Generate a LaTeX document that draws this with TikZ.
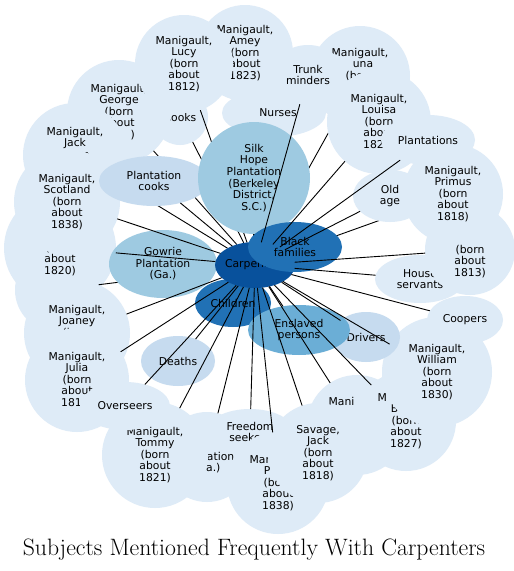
\documentclass[tikz,border=0pt]{standalone}
\usepackage{fontspec}
\newfontfamily\dejavu{DejaVu Sans}
\usetikzlibrary{shapes.geometric}
\definecolor{cO}{HTML}{DEEBF7}
\definecolor{cL}{HTML}{C6DBEF}
\definecolor{cM}{HTML}{9ECAE1}
\definecolor{cE}{HTML}{6BAED6}
\definecolor{cB}{HTML}{2171B5}
\definecolor{cD}{HTML}{08519C}
\pgfdeclarelayer{outer}
\pgfdeclarelayer{under}
\pgfdeclarelayer{mid}
\pgfsetlayers{outer,under,mid,main}
\tikzset{
  bub/.style n args={3}{ellipse, inner sep=0pt, outer sep=0pt, minimum width=#1pt, minimum height=#2pt, fill=#3, draw=none},
  lab/.style={font=\dejavu\fontsize{10.8}{11.6}\selectfont, align=center, inner sep=0pt, text=black},
  link/.style={line width=0.9pt, draw=black},
  ttl/.style={font=\fontsize{23.7}{28}\selectfont, inner sep=0pt}
}
\begin{document}
\begin{tikzpicture}[x=1pt,y=-1pt]
\begin{pgfonlayer}{outer}
\fill[white] (0,0) rectangle (514,571);
\end{pgfonlayer}
\useasboundingbox (0,0) rectangle (514,571);

% ---------- middle ring (drawn above outer bubbles) ----------
\begin{pgfonlayer}{mid}
\node[bub={74}{52}{cO}, label={[lab]center:{Old\\age}}] (oldage) at (390,196) {};
\node[bub={110}{50}{cL}, label={[lab]center:{Plantation\\cooks}}] (pcooks) at (154,181) {};
\node[bub={108}{68}{cM}, label={[lab]center:{Gowrie\\Plantation\\(Ga.)}}] (gowrie) at (163,264) {};
\node[bub={112}{112}{cM}, label={[lab]center:{Silk\\Hope\\Plantation\\(Berkeley\\District,\\S.C.)}}] (silkhope) at (254,178) {};
\node[bub={74}{50}{cL}, label={[lab]center:{Deaths}}] (deaths) at (178,361) {};
\node[bub={68}{50}{cL}, label={[lab]center:{Drivers}}] (drivers) at (366,337) {};
\node[bub={76}{48}{cB}, label={[lab]center:{Children}}] (children) at (233,303) {};
\node[bub={102}{50}{cE}, label={[lab]center:{Enslaved\\persons}}] (enslaved) at (299,330) {};
\node[bub={80}{46}{cD}, label={[lab]center:{Carpenters}}] (carp) at (255,265) {};
\node[bub={94}{50}{cB}, label={[lab]center:{Black\\families}}] (black) at (295,247) {};
\end{pgfonlayer}

% ---------- outer bubbles ----------
\begin{pgfonlayer}{outer}
\node[bub={84}{84}{cO}] (hid) at (57,290) {};
\node[bub={112}{112}{cO}, label={[lab]center:{\phantom{M}\\\phantom{M}\\(born\\about\\1820)}}] (n1820) at (60,248) {};
\node[bub={106}{106}{cO}, label={[lab]center:{Manigault,\\Joaney\\(born\\about\\\phantom{1800)}}}] (joaney) at (77,333) {};
\node[bub={104}{104}{cO}, label={[lab]center:{Manigault,\\Julia\\(born\\about\\181\phantom{0})}}] (julia) at (77,380) {};
\node[bub={90}{90}{cO}, label={[lab]center:{\phantom{M}\\Plantation\\(Ga.)}}] (gaplant) at (207,457) {};
\node[bub={106}{106}{cO}, label={[lab]center:{Manigault,\\Tommy\\(born\\about\\1821)}}] (tommy) at (155,455) {};
\node[bub={90}{48}{cO}, label={[lab]center:{Overseers}}] (overseers) at (125,406) {};
\node[bub={88}{46}{cO}, label={[lab]center:{Freedom\\seekers}}] (freedom) at (250,432) {};
\node[bub={102}{102}{cO}, label={[lab]center:{Manigault,\\P\phantom{eter}\\(born\\about\\1838)}}] (pnode) at (278,483) {};
\node[bub={100}{100}{cO}, label={[lab]center:{Mani\phantom{gault,}\\\phantom{M}\\\phantom{M}\\\phantom{M}\\\phantom{M}}}] (mania) at (357,425) {};
\node[bub={100}{100}{cO}, label={[lab]center:{Savage,\\Jack\\(born\\about\\1818)}}] (savage) at (318,453) {};
\node[bub={100}{100}{cO}, label={[lab]center:{M\phantom{anigault,}\\B\phantom{etsy}\\(born\\about\\1827)}}] (mb) at (406,421) {};
\node[bub={110}{110}{cO}, label={[lab]center:{Manigault,\\William\\(born\\about\\1830)}}] (william) at (437,372) {};
\node[bub={76}{48}{cO}, label={[lab]center:{Coopers}}] (coopers) at (465,320) {};
\node[bub={90}{48}{cO}, label={[lab]center:{House\\servants}}] (house) at (420,279) {};
\node[bub={90}{90}{cO}, label={[lab]center:{\phantom{M}\\\phantom{M}\\(born\\about\\1813)}}] (n1813) at (470,250) {};
\node[bub={100}{100}{cO}, label={[lab]center:{Manigault,\\Primus\\(born\\about\\1818)}}] (primus) at (453,194) {};
\node[bub={100}{100}{cO}, label={[lab]center:{Manigault,\\\phantom{L}una\\(born\\\phantom{about}\\\phantom{1800)}}}] (luna) at (360,76) {};
\draw[link] (carp) -- (luna);
\node[bub={104}{104}{cO}, label={[lab]center:{Manigault,\\Louisa\\(born\\about\\182\phantom{0)}}}] (louisa) at (379,122) {};
\node[bub={94}{50}{cO}, label={[lab]center:{Plantations}}] (plantations) at (428,140) {};
\node[bub={96}{96}{cO}, label={[lab]center:{Manigault,\\Amey\\(born\\about\\1823)}}] (amey) at (245,53) {};
\draw[link] (carp) -- (amey);
\node[bub={72}{60}{cO}, label={[lab]center:{Trunk\\minders}}] (trunk) at (308,75) {};
\node[bub={104}{48}{cO}, label={[lab,xshift=4pt]center:{Nurses}}] (nurses) at (274,113) {};
\node[bub={56}{56}{cO}, label={[lab]center:{Cooks}}] (cooks) at (180,117) {};
\node[bub={104}{104}{cO}, label={[lab]center:{Manigault,\\George\\(born\\about\\\phantom{1800})}}] (george) at (119,112) {};
\node[bub={98}{98}{cO}, label={[lab]center:{Manigault,\\Lucy\\(born\\about\\1812)}}] (lucy) at (184,64) {};
\node[bub={104}{104}{cO}, label={[lab]center:{Manigault,\\Jack\\(born\\about\\\phantom{1800)}}}] (jack) at (75,155) {};
\node[bub={106}{106}{cO}, label={[lab]center:{Manigault,\\Scotland\\(born\\about\\1838)}}] (scotland) at (67,202) {};
\end{pgfonlayer}

% ---------- connectors hidden under the middle ring ----------
\begin{pgfonlayer}{under}
\draw[link] (carp) -- (hid);
\draw[link] (carp) -- (george);
\draw[link] (carp) -- (jack);
\draw[link] (carp) -- (lucy);
\draw[link] (carp) -- (cooks);
\draw[link] (carp) -- (nurses);
\draw[link] (carp) -- (primus);
\draw[link] (carp) -- (silkhope);
\end{pgfonlayer}

% ---------- connectors on top ----------
\foreach \t in {scotland,n1820,joaney,julia,overseers,tommy,gaplant,freedom,pnode,savage,mania,mb,william,coopers,house,n1813,drivers,enslaved,deaths,pcooks,trunk,louisa,plantations,oldage}
  \draw[link] (carp) -- (\t);

\node[ttl] (title) at (254,550) {Subjects Mentioned Frequently With Carpenters};
\end{tikzpicture}
\end{document}
